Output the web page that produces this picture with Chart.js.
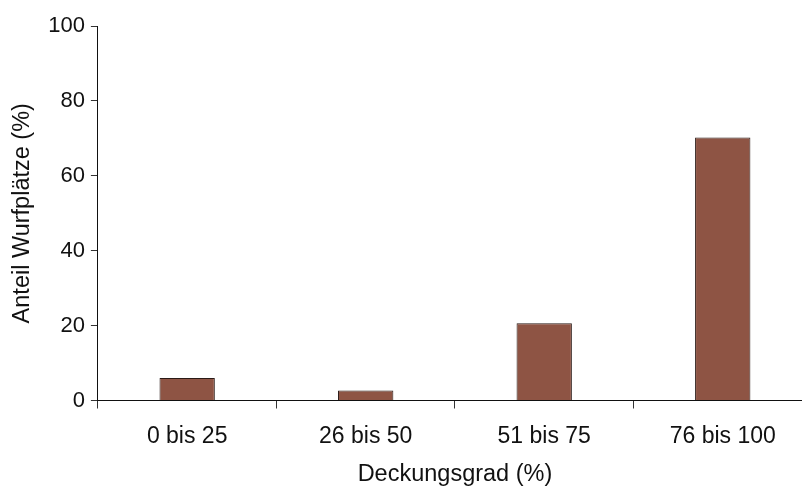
<!DOCTYPE html>
<html>
<head>
<meta charset="utf-8">
<script src="https://cdn.jsdelivr.net/npm/chart.js@4"></script>
<style>
html,body{margin:0;padding:0;background:#fff;overflow:hidden;}
#wrap{position:relative;width:812px;height:486px;}
</style>
</head>
<body>
<div id="wrap"><canvas id="c"></canvas></div>
<script>
const categories = ["0 bis 25", "26 bis 50", "51 bis 75", "76 bis 100"];
const shares = [6, 2.7, 20.6, 70.2];
const yTicks = [0, 20, 40, 60, 80, 100];

new Chart(document.getElementById('c'), {
  type: 'bar',
  data: {
    labels: categories,
    datasets: [{
      data: shares,
      backgroundColor: '#8E5444',
      borderColor: '#2a1a16',
      borderWidth: 1,
      borderSkipped: 'bottom',
      categoryPercentage: 1,
      barPercentage: 0.31
    }]
  },
  options: {
    responsive: true,
    maintainAspectRatio: false,
    animation: false,
    layout: { padding: { top: 26, right: 0, bottom: 0, left: 8 } },
    plugins: { legend: { display: false }, tooltip: { enabled: false } },
    scales: {
      x: {
        offset: true,
        grid: { display: true, drawOnChartArea: false, offset: true, drawTicks: true, tickLength: 8, color: '#333', lineWidth: 1 },
        border: { display: true, color: '#111', width: 1 },
        ticks: { color: '#111', font: { family: 'Liberation Sans', size: 23, lineHeight: 1 }, padding: 17 },
        title: { display: true, text: 'Deckungsgrad (%)', color: '#111', font: { family: 'Liberation Sans', size: 23.5, lineHeight: 1 }, padding: { top: -3, bottom: 0 } }
      },
      y: {
        min: 0, max: 100,
        afterBuildTicks: (axis) => { axis.ticks = yTicks.map(v => ({ value: v })); },
        grid: { display: true, drawOnChartArea: false, drawTicks: true, tickLength: 7, color: '#333', lineWidth: 1 },
        border: { display: true, color: '#111', width: 1 },
        ticks: { color: '#111', font: { family: 'Liberation Sans', size: 22 }, padding: 6 },
        title: { display: true, text: 'Anteil Wurfplätze (%)', color: '#111', font: { family: 'Liberation Sans', size: 23.5 }, padding: { top: 0, bottom: 6 } }
      }
    }
  }
});
</script>
</body>
</html>
